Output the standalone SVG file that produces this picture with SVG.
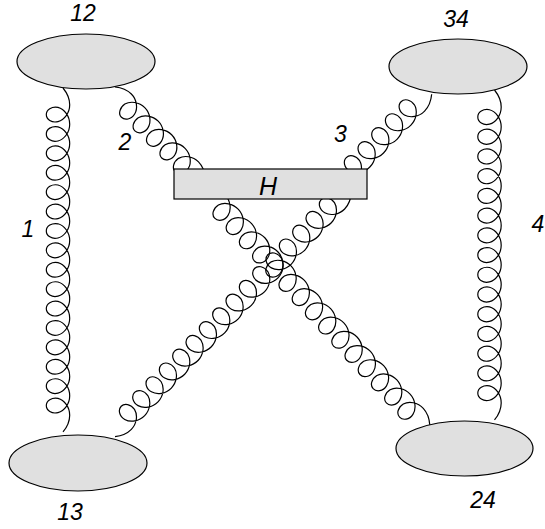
<svg xmlns="http://www.w3.org/2000/svg" xmlns:xlink="http://www.w3.org/1999/xlink" width="545" height="529" viewBox="0 0 545 529">
<style>
.gl{fill:none;stroke:#000;stroke-width:1.2}
.nd{fill:#e0e0e0;stroke:#000;stroke-width:1.2}
.lbl{font-family:"Liberation Sans",Arial,sans-serif;font-style:italic;font-size:23px;text-anchor:middle;fill:#000}
</style>
<defs>
<path id="coil5" class="gl" vector-effect="non-scaling-stroke" d="M0,-5c3,-2.5 9,-6.7 16.45,-6.7
c7.95,0 14.82,5.38 16.45,11.7 1.63,6.32 -2.27,11.7 -6.95,11.7 -4.69,0 -8.08,-5.38 -6.95,-11.7 1.63,-6.32 8.5,-11.7 16.45,-11.7
c7.95,0 14.82,5.38 16.45,11.7 1.63,6.32 -2.27,11.7 -6.95,11.7 -4.69,0 -8.08,-5.38 -6.95,-11.7 1.63,-6.32 8.5,-11.7 16.45,-11.7
c7.95,0 14.82,5.38 16.45,11.7 1.63,6.32 -2.27,11.7 -6.95,11.7 -4.69,0 -8.08,-5.38 -6.95,-11.7 1.63,-6.32 8.5,-11.7 16.45,-11.7
c7.95,0 14.82,5.38 16.45,11.7 1.63,6.32 -2.27,11.7 -6.95,11.7 -4.69,0 -8.08,-5.38 -6.95,-11.7 1.63,-6.32 8.5,-11.7 16.45,-11.7
c7.95,0 14.82,5.38 16.45,11.7 1.63,6.32 -2.27,11.7 -6.95,11.7 -4.69,0 -8.08,-5.38 -6.95,-11.7 1.63,-6.32 8.5,-11.7 16.45,-11.7
c7.45,0 13.45,4.2 16.45,6.7"/>
<path id="coil15" class="gl" vector-effect="non-scaling-stroke" d="M0,-5c3,-2.5 9,-6.7 16.45,-6.7
c7.95,0 14.82,5.38 16.45,11.7 1.63,6.32 -2.27,11.7 -6.95,11.7 -4.69,0 -8.08,-5.38 -6.95,-11.7 1.63,-6.32 8.5,-11.7 16.45,-11.7
c7.95,0 14.82,5.38 16.45,11.7 1.63,6.32 -2.27,11.7 -6.95,11.7 -4.69,0 -8.08,-5.38 -6.95,-11.7 1.63,-6.32 8.5,-11.7 16.45,-11.7
c7.95,0 14.82,5.38 16.45,11.7 1.63,6.32 -2.27,11.7 -6.95,11.7 -4.69,0 -8.08,-5.38 -6.95,-11.7 1.63,-6.32 8.5,-11.7 16.45,-11.7
c7.95,0 14.82,5.38 16.45,11.7 1.63,6.32 -2.27,11.7 -6.95,11.7 -4.69,0 -8.08,-5.38 -6.95,-11.7 1.63,-6.32 8.5,-11.7 16.45,-11.7
c7.95,0 14.82,5.38 16.45,11.7 1.63,6.32 -2.27,11.7 -6.95,11.7 -4.69,0 -8.08,-5.38 -6.95,-11.7 1.63,-6.32 8.5,-11.7 16.45,-11.7
c7.95,0 14.82,5.38 16.45,11.7 1.63,6.32 -2.27,11.7 -6.95,11.7 -4.69,0 -8.08,-5.38 -6.95,-11.7 1.63,-6.32 8.5,-11.7 16.45,-11.7
c7.95,0 14.82,5.38 16.45,11.7 1.63,6.32 -2.27,11.7 -6.95,11.7 -4.69,0 -8.08,-5.38 -6.95,-11.7 1.63,-6.32 8.5,-11.7 16.45,-11.7
c7.95,0 14.82,5.38 16.45,11.7 1.63,6.32 -2.27,11.7 -6.95,11.7 -4.69,0 -8.08,-5.38 -6.95,-11.7 1.63,-6.32 8.5,-11.7 16.45,-11.7
c7.95,0 14.82,5.38 16.45,11.7 1.63,6.32 -2.27,11.7 -6.95,11.7 -4.69,0 -8.08,-5.38 -6.95,-11.7 1.63,-6.32 8.5,-11.7 16.45,-11.7
c7.95,0 14.82,5.38 16.45,11.7 1.63,6.32 -2.27,11.7 -6.95,11.7 -4.69,0 -8.08,-5.38 -6.95,-11.7 1.63,-6.32 8.5,-11.7 16.45,-11.7
c7.95,0 14.82,5.38 16.45,11.7 1.63,6.32 -2.27,11.7 -6.95,11.7 -4.69,0 -8.08,-5.38 -6.95,-11.7 1.63,-6.32 8.5,-11.7 16.45,-11.7
c7.95,0 14.82,5.38 16.45,11.7 1.63,6.32 -2.27,11.7 -6.95,11.7 -4.69,0 -8.08,-5.38 -6.95,-11.7 1.63,-6.32 8.5,-11.7 16.45,-11.7
c7.95,0 14.82,5.38 16.45,11.7 1.63,6.32 -2.27,11.7 -6.95,11.7 -4.69,0 -8.08,-5.38 -6.95,-11.7 1.63,-6.32 8.5,-11.7 16.45,-11.7
c7.95,0 14.82,5.38 16.45,11.7 1.63,6.32 -2.27,11.7 -6.95,11.7 -4.69,0 -8.08,-5.38 -6.95,-11.7 1.63,-6.32 8.5,-11.7 16.45,-11.7
c7.95,0 14.82,5.38 16.45,11.7 1.63,6.32 -2.27,11.7 -6.95,11.7 -4.69,0 -8.08,-5.38 -6.95,-11.7 1.63,-6.32 8.5,-11.7 16.45,-11.7
c7.45,0 13.45,4.2 16.45,6.7"/>
<path id="coil16" class="gl" vector-effect="non-scaling-stroke" d="M0,-5c3,-2.5 9,-6.7 16.45,-6.7
c7.95,0 14.82,5.38 16.45,11.7 1.63,6.32 -2.27,11.7 -6.95,11.7 -4.69,0 -8.08,-5.38 -6.95,-11.7 1.63,-6.32 8.5,-11.7 16.45,-11.7
c7.95,0 14.82,5.38 16.45,11.7 1.63,6.32 -2.27,11.7 -6.95,11.7 -4.69,0 -8.08,-5.38 -6.95,-11.7 1.63,-6.32 8.5,-11.7 16.45,-11.7
c7.95,0 14.82,5.38 16.45,11.7 1.63,6.32 -2.27,11.7 -6.95,11.7 -4.69,0 -8.08,-5.38 -6.95,-11.7 1.63,-6.32 8.5,-11.7 16.45,-11.7
c7.95,0 14.82,5.38 16.45,11.7 1.63,6.32 -2.27,11.7 -6.95,11.7 -4.69,0 -8.08,-5.38 -6.95,-11.7 1.63,-6.32 8.5,-11.7 16.45,-11.7
c7.95,0 14.82,5.38 16.45,11.7 1.63,6.32 -2.27,11.7 -6.95,11.7 -4.69,0 -8.08,-5.38 -6.95,-11.7 1.63,-6.32 8.5,-11.7 16.45,-11.7
c7.95,0 14.82,5.38 16.45,11.7 1.63,6.32 -2.27,11.7 -6.95,11.7 -4.69,0 -8.08,-5.38 -6.95,-11.7 1.63,-6.32 8.5,-11.7 16.45,-11.7
c7.95,0 14.82,5.38 16.45,11.7 1.63,6.32 -2.27,11.7 -6.95,11.7 -4.69,0 -8.08,-5.38 -6.95,-11.7 1.63,-6.32 8.5,-11.7 16.45,-11.7
c7.95,0 14.82,5.38 16.45,11.7 1.63,6.32 -2.27,11.7 -6.95,11.7 -4.69,0 -8.08,-5.38 -6.95,-11.7 1.63,-6.32 8.5,-11.7 16.45,-11.7
c7.95,0 14.82,5.38 16.45,11.7 1.63,6.32 -2.27,11.7 -6.95,11.7 -4.69,0 -8.08,-5.38 -6.95,-11.7 1.63,-6.32 8.5,-11.7 16.45,-11.7
c7.95,0 14.82,5.38 16.45,11.7 1.63,6.32 -2.27,11.7 -6.95,11.7 -4.69,0 -8.08,-5.38 -6.95,-11.7 1.63,-6.32 8.5,-11.7 16.45,-11.7
c7.95,0 14.82,5.38 16.45,11.7 1.63,6.32 -2.27,11.7 -6.95,11.7 -4.69,0 -8.08,-5.38 -6.95,-11.7 1.63,-6.32 8.5,-11.7 16.45,-11.7
c7.95,0 14.82,5.38 16.45,11.7 1.63,6.32 -2.27,11.7 -6.95,11.7 -4.69,0 -8.08,-5.38 -6.95,-11.7 1.63,-6.32 8.5,-11.7 16.45,-11.7
c7.95,0 14.82,5.38 16.45,11.7 1.63,6.32 -2.27,11.7 -6.95,11.7 -4.69,0 -8.08,-5.38 -6.95,-11.7 1.63,-6.32 8.5,-11.7 16.45,-11.7
c7.95,0 14.82,5.38 16.45,11.7 1.63,6.32 -2.27,11.7 -6.95,11.7 -4.69,0 -8.08,-5.38 -6.95,-11.7 1.63,-6.32 8.5,-11.7 16.45,-11.7
c7.95,0 14.82,5.38 16.45,11.7 1.63,6.32 -2.27,11.7 -6.95,11.7 -4.69,0 -8.08,-5.38 -6.95,-11.7 1.63,-6.32 8.5,-11.7 16.45,-11.7
c7.95,0 14.82,5.38 16.45,11.7 1.63,6.32 -2.27,11.7 -6.95,11.7 -4.69,0 -8.08,-5.38 -6.95,-11.7 1.63,-6.32 8.5,-11.7 16.45,-11.7
c7.45,0 13.45,4.2 16.45,6.7"/>
</defs>
<g id="connectors">
<use id="gluon1" xlink:href="#coil16" href="#coil16" transform="translate(58,88) rotate(90) scale(1.021,1)"/>
<use id="gluon4" xlink:href="#coil15" href="#coil15" transform="translate(489.5,90) rotate(90) scale(1.038,1)"/>
<use id="gluon2" xlink:href="#coil5" href="#coil5" transform="translate(111.4,90.5) rotate(45.3) scale(1.005,1)"/>
<use id="gluon3" xlink:href="#coil5" href="#coil5" transform="translate(428.1,90.8) rotate(134.4) scale(1.03,1)"/>
<use id="gluon5" xlink:href="#coil15" href="#coil15" transform="translate(205.2,190.8) rotate(47.1) scale(1.021,1)"/>
<use id="gluon6" xlink:href="#coil16" href="#coil16" transform="translate(347.8,188.9) rotate(134.06) scale(1.009,1)"/>
</g>
<g id="node12"><ellipse class="nd" cx="86" cy="61.5" rx="69" ry="27.5"/><text class="lbl" x="83" y="20.5">12</text></g>
<g id="node34"><ellipse class="nd" cx="458" cy="66.5" rx="69" ry="27.5"/><text class="lbl" x="456" y="27">34</text></g>
<g id="node13"><ellipse class="nd" cx="78" cy="463" rx="69" ry="28"/><text class="lbl" x="70" y="520">13</text></g>
<g id="node24"><ellipse class="nd" cx="464.5" cy="448.5" rx="68.5" ry="27.5"/><text class="lbl" x="483" y="508">24</text></g>
<g id="nodeH"><rect class="nd" x="174" y="169" width="193" height="30"/><text class="lbl" x="268" y="195" style="font-size:25px">H</text></g>
<g id="labels">
<text class="lbl" x="28" y="236.5">1</text>
<text class="lbl" x="125" y="150">2</text>
<text class="lbl" x="340.5" y="142">3</text>
<text class="lbl" x="538" y="231.5">4</text>
</g>
</svg>
